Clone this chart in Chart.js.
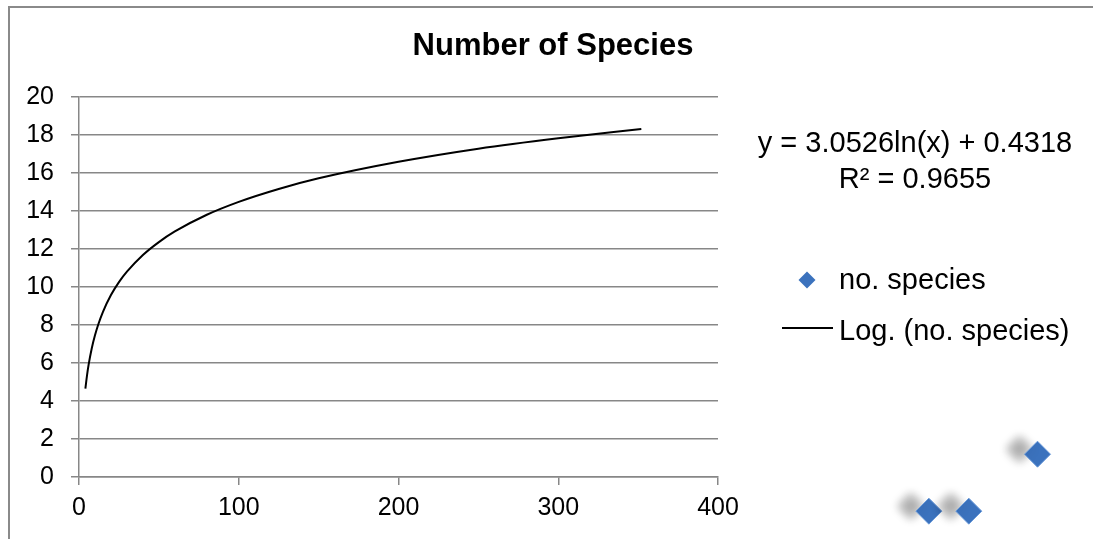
<!DOCTYPE html>
<html>
<head>
<meta charset="utf-8">
<script src="https://cdn.jsdelivr.net/npm/chart.js@4"></script>
<style>
  html, body { margin: 0; padding: 0; background: #fff; overflow: hidden; }
  #wrap { position: relative; width: 1093px; height: 539px; overflow: hidden; }
  #frame { position: absolute; left: 8px; top: 6px; width: 1200px; height: 600px;
           border-left: 2px solid #8a8a8a; border-top: 2px solid #8a8a8a; pointer-events: none; }
</style>
</head>
<body>
<div id="wrap">
  <canvas id="grafico"></canvas>
  <div id="frame"></div>
</div>
<script>
// valores
const titulo = 'Number of Species';
const nombreSerie = 'no. species';
const nombreTendencia = 'Log. (no. species)';
const ecuacion = ['y = 3.0526ln(x) + 0.4318', 'R\u00b2 = 0.9655'];

// puntos de la serie (aparecen fuera del área de trazado en la imagen)
const especiesX = [600, 532, 557];
const especiesY = [1.2, -1.8, -1.8];

// curva de tendencia logarítmica
const tendenciaX = [4, 5, 6, 8, 10, 12, 15, 20, 25, 30, 40, 50, 60, 80, 100, 125, 150, 200, 250, 300, 352];
const tendenciaY = [4.66, 5.34, 5.90, 6.78, 7.46, 8.02, 8.70, 9.58, 10.26, 10.81, 11.69, 12.37, 12.93, 13.81, 14.49, 15.17, 15.73, 16.60, 17.29, 17.84, 18.33];

const ejeX = { min: 0, max: 400, paso: 100 };
const ejeY = { min: 0, max: 20, paso: 2 };

const fuente = '"Liberation Sans", Arial, sans-serif';
const gris = '#878787';
const azul = '#3b72bd';

const aPuntos = (xs, ys) => xs.map((x, i) => ({ x: x, y: ys[i] }));

// los rombos quedan fuera del área: se dibujan aparte, con sombra
const rombos = {
    id: 'rombos',
    afterDatasetsDraw(chart) {
        const ctx = chart.ctx;
        const meta = chart.getDatasetMeta(1);
        ctx.save();
        ctx.shadowColor = 'rgba(0,0,0,0.32)';
        ctx.shadowBlur = 10;
        ctx.shadowOffsetX = -18;
        ctx.shadowOffsetY = -5;
        meta.data.forEach(p => p.draw(ctx));
        ctx.restore();
    }
};

// leyenda y ecuación al estilo Excel
const leyenda = {
    id: 'leyenda',
    afterDraw(chart) {
        const ctx = chart.ctx;
        const r = chart.chartArea.right;
        ctx.save();
        ctx.fillStyle = '#000';
        ctx.font = '29px ' + fuente;
        ctx.textAlign = 'center';
        ctx.textBaseline = 'alphabetic';
        ctx.fillText(ecuacion[0], r + 197, 152);
        ctx.fillText(ecuacion[1], r + 197, 188);

        // rombo
        const cx = r + 89, cy = 280, s = 8.5;
        ctx.beginPath();
        ctx.moveTo(cx, cy - s);
        ctx.lineTo(cx + s, cy);
        ctx.lineTo(cx, cy + s);
        ctx.lineTo(cx - s, cy);
        ctx.closePath();
        ctx.fillStyle = azul;
        ctx.fill();

        ctx.beginPath();
        ctx.moveTo(r + 64, 328);
        ctx.lineTo(r + 115, 328);
        ctx.strokeStyle = '#000';
        ctx.lineWidth = 2;
        ctx.stroke();

        ctx.fillStyle = '#000';
        ctx.textAlign = 'left';
        ctx.fillText(nombreSerie, r + 121, 289);
        ctx.fillText(nombreTendencia, r + 121, 340);
        ctx.restore();
    }
};

new Chart(document.getElementById('grafico').getContext('2d'), {
    type: 'scatter',
    data: {
        datasets: [{
            type: 'line',
            label: nombreTendencia,
            data: aPuntos(tendenciaX, tendenciaY),
            borderColor: '#000',
            borderWidth: 2,
            pointRadius: 0,
            cubicInterpolationMode: 'monotone',
            fill: false
        }, {
            label: nombreSerie,
            data: aPuntos(especiesX, especiesY),
            pointStyle: 'rectRot',
            pointRadius: 13,
            backgroundColor: azul,
            borderColor: '#6a9ad9',
            borderWidth: 1,
            clip: false
        }]
    },
    options: {
        responsive: true,
        maintainAspectRatio: false,
        animation: false,
        events: [],
        layout: { padding: { left: 13, right: 0, top: 0, bottom: 0 } },
        scales: {
            x: {
                type: 'linear',
                min: ejeX.min, max: ejeX.max,
                ticks: { stepSize: ejeX.paso, color: '#000', font: { family: fuente, size: 25 }, padding: 8, maxRotation: 0 },
                grid: { drawOnChartArea: false, drawTicks: true, tickLength: 8, color: gris, lineWidth: 1.5 },
                border: { display: true, color: gris, width: 1.5 },
                afterFit: s => { s.height = 62; }
            },
            y: {
                min: ejeY.min, max: ejeY.max,
                ticks: { stepSize: ejeY.paso, color: '#000', font: { family: fuente, size: 25 }, padding: 17 },
                grid: { color: gris, lineWidth: 1.5, tickLength: 8 },
                border: { display: true, color: gris, width: 1.5 },
                afterFit: s => { s.width = 66; }
            },
            derecha: {
                position: 'right',
                min: 0, max: 1,
                ticks: { display: false },
                grid: { display: false },
                border: { display: false },
                afterFit: s => { s.width = 375; }
            }
        },
        plugins: {
            legend: { display: false },
            tooltip: { enabled: false },
            title: {
                display: true,
                text: titulo,
                color: '#000',
                font: { family: fuente, size: 31, weight: 'bold', lineHeight: 1.2 },
                padding: { top: 28, bottom: 32 }
            }
        }
    },
    plugins: [rombos, leyenda]
});
</script>
</body>
</html>
